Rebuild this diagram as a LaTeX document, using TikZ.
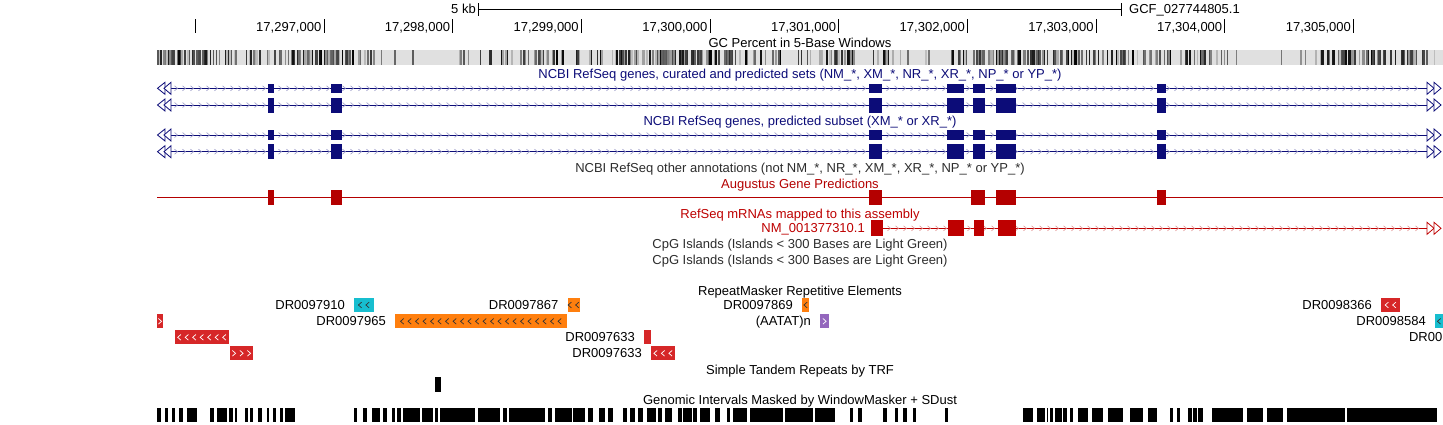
\documentclass[tikz,border=0pt]{standalone}
\usepackage{fontspec}
\setmainfont{Liberation Sans}
\usepackage{xcolor}
\usetikzlibrary{arrows.meta}

\definecolor{refnavy}{RGB}{12,12,120}
\definecolor{augred}{RGB}{180,0,0}
\definecolor{mrnared}{RGB}{190,0,0}
\definecolor{rmred}{RGB}{214,39,40}
\definecolor{rmorange}{RGB}{255,127,14}
\definecolor{rmcyan}{RGB}{23,190,207}
\definecolor{rmpurple}{RGB}{148,103,189}
\definecolor{titlegray}{RGB}{45,45,45}

\tikzset{
  trackfont/.style={font=\fontsize{13}{15}\selectfont, inner sep=0pt, anchor=base},
  tracktitle/.style={trackfont, text=titlegray},
  txline/.style={line width=1pt},
  chev/.style={line width=0.6pt},
  rmlabel/.style={trackfont, anchor=base east},
}

% exon blocks shared by the RefSeq rows
\newcommand{\refexons}{267.5/274, 331/342, 869/882, 947/964, 973/985, 996/1016, 1157/1166}

% forward chevrons along an intron line: y, from, to, colour
\newcommand{\fwdchevrons}[4]{%
  \pgfmathsetmacro\chevnext{#2+8}%
  \foreach \cx in {#2,\chevnext,...,#3}
    \draw[chev, #4] (\cx-1.5,#1-2.5) -- (\cx+1.5,#1) -- (\cx-1.5,#1+2.5);%
}

% open double heads where a row runs out of view
\newcommand{\rightends}[2]{%
  \draw[#2, fill=white, line width=0.8pt] (1427,#1-6) -- (1434,#1) -- (1427,#1+6) -- cycle;
  \draw[#2, fill=white, line width=0.8pt] (1434,#1-6) -- (1441,#1) -- (1434,#1+6) -- cycle;%
}
\newcommand{\leftends}[2]{%
  \draw[#2, fill=white, line width=0.8pt] (165,#1-6) -- (157.5,#1) -- (165,#1+6) -- cycle;
  \draw[#2, fill=white, line width=0.8pt] (171,#1-6) -- (164,#1) -- (171,#1+6) -- cycle;%
}

% repeat element: x1, x2, y, fill, chevron colour, direction (1 or -1), chevrons
\newcommand{\rmelement}[7]{%
  \fill[#4] (#1,#3-7) rectangle (#2,#3+7);
  \foreach \k in {1,...,#7} {
    \pgfmathsetmacro\cx{(#1+#2)/2+(\k-(#7+1)/2)*7.5}
    \pgfmathsetmacro\ctail{\cx-1.6*(#6)}
    \pgfmathsetmacro\chead{\cx+1.6*(#6)}
    \draw[#5, line width=0.7pt] (\ctail,#3-2.8) -- (\chead,#3) -- (\ctail,#3+2.8);
  }%
}

\begin{document}
\begin{tikzpicture}[x=1pt, y=-1pt]
        \fill[white] (0,0) rectangle (1443,424);
        \useasboundingbox (0,0) rectangle (1443,424);
        \clip (0,0) rectangle (1443,424);

        % scale bar and ruler
        \node[trackfont, anchor=base east] (kb) at (476,13.5) {5 kb};
        \draw[line width=1pt] (478.5,3) -- (478.5,16) (478.5,9) -- (1121,9) (1121,3) -- (1121,16);
        \node[trackfont, anchor=base west] (assembly) at (1129,13.5) {GCF\_027744805.1};
        \foreach \k in {0,...,9} {
          \pgfmathsetmacro\tx{195.3+128.7*\k}
          \draw[line width=1pt] (\tx,19) -- (\tx,33);
        }
        \foreach \k in {297,...,305} {
          \pgfmathsetmacro\tx{324+128.7*(\k-297)}
          \node[trackfont, anchor=base east] (pos\k) at (\tx-2.5,31) {17,\k,000};
        }

        % GC percent
        \node[trackfont] (gctitle) at (800,47.5) {GC Percent in 5-Base Windows};
        \fill[black!12] (157,50) rectangle (1443,64.5);
        \pgfmathsetseed{4242}
        \foreach \i in {0,...,856} {
          \pgfmathsetmacro\gcw{0.42+0.45*sin(\i*2.3+20)*cos(\i*0.9+40)}
          \pgfmathtruncatemacro\gcd{rnd<\gcw ? 25+75*rnd : 0}
          \ifnum\gcd>0
            \fill[black!\gcd] (157+1.5*\i,50) rectangle (158.5+1.5*\i,64.5);
          \fi
        }

        % NCBI RefSeq curated and predicted
        \node[trackfont, text=refnavy] (curtitle) at (800,78.5) {NCBI RefSeq genes, curated and predicted sets (NM\_*, XM\_*, NR\_*, XR\_*, NP\_* or YP\_*)};
        \node[trackfont, text=refnavy] (predtitle) at (800,125.5) {NCBI RefSeq genes, predicted subset (XM\_* or XR\_*)};
        \foreach \ry/\eh in {88.3/4.7, 105/7.5, 135/4.7, 151.7/7.5} {
          \draw[txline, refnavy] (170,\ry) -- (1427,\ry);
          \fwdchevrons{\ry}{176}{1420}{refnavy!40}
          \leftends{\ry}{refnavy}
          \rightends{\ry}{refnavy}
          \foreach \a/\b in \refexons
            \fill[refnavy] (\a,\ry-\eh) rectangle (\b,\ry+\eh);
        }
        \node[tracktitle] (othertitle) at (800,172.5) {NCBI RefSeq other annotations (not NM\_*, NR\_*, XM\_*, XR\_*, NP\_* or YP\_*)};

        % Augustus
        \node[trackfont, text=augred] (augtitle) at (800,188.5) {Augustus Gene Predictions};
        \draw[txline, augred] (157,197.3) -- (1443,197.3);
        \foreach \a/\b in {267.5/274, 331/342, 869/882, 971/985, 996/1016, 1157/1166}
          \fill[augred] (\a,190) rectangle (\b,205);

        % RefSeq mRNAs
        \node[trackfont, text=mrnared] (mrnatitle) at (800,218.5) {RefSeq mRNAs mapped to this assembly};
        \node[trackfont, anchor=base east, text=mrnared] (nmlabel) at (865,232.5) {NM\_001377310.1};
        \draw[txline, mrnared] (883,228.3) -- (1427,228.3);
        \fwdchevrons{228.3}{889}{1420}{mrnared!40}
        \rightends{228.3}{mrnared}
        \foreach \a/\b in {871/883, 948/964, 974/984, 998/1016}
          \fill[mrnared] (\a,220.3) rectangle (\b,236.3);

        % CpG islands
        \node[tracktitle] (cpgtitle) at (800,248.5) {CpG Islands (Islands < 300 Bases are Light Green)};
        \node[tracktitle] (cpgtitleb) at (800,264.5) {CpG Islands (Islands < 300 Bases are Light Green)};

        % RepeatMasker
        \node[trackfont] (rmtitle) at (800,295.5) {RepeatMasker Repetitive Elements};
        \rmelement{354}{373.5}{305}{rmcyan}{black!80}{-1}{2}
        \node[rmlabel] (rm910) at (345,309.5) {DR0097910};
        \rmelement{567.5}{579.5}{305}{rmorange}{black!80}{-1}{2}
        \node[rmlabel] (rm867) at (558.5,309.5) {DR0097867};
        \rmelement{802}{809}{305}{rmorange}{black!80}{-1}{1}
        \node[rmlabel] (rm869) at (793,309.5) {DR0097869};
        \rmelement{1381}{1400}{305}{rmred}{white}{-1}{2}
        \node[rmlabel] (rm366) at (1372,309.5) {DR0098366};

        \rmelement{157}{163}{321.3}{rmred}{white}{1}{1}
        \rmelement{395.3}{566.5}{321.3}{rmorange}{black!80}{-1}{22}
        \node[rmlabel] (rm965) at (386,325.8) {DR0097965};
        \rmelement{820}{829}{321.3}{rmpurple}{white}{1}{1}
        \node[rmlabel] (rmaatat) at (811,325.8) {(AATAT)n};
        \rmelement{1435}{1443}{321.3}{rmcyan}{black!80}{-1}{1}
        \node[rmlabel] (rm584) at (1426,325.8) {DR0098584};

        \rmelement{174.6}{229}{337.3}{rmred}{white}{-1}{7}
        \fill[rmred] (644,330.3) rectangle (651,344.3);
        \node[rmlabel] (rm633) at (635,341.8) {DR0097633};
        \node[rmlabel] (rmcut) at (1442.5,341.8) {DR00};

        \rmelement{230}{253}{353.3}{rmred}{white}{1}{3}
        \rmelement{651}{675}{353.3}{rmred}{white}{-1}{3}
        \node[rmlabel] (rm633b) at (642,357.8) {DR0097633};

        % TRF
        \node[trackfont] (trftitle) at (800,374.5) {Simple Tandem Repeats by TRF};
        \fill (435.4,377) rectangle (441,392);

        % WindowMasker
        \node[trackfont] (wmtitle) at (800,404.5) {Genomic Intervals Masked by WindowMasker + SDust};
        \foreach \a/\b in {157.3/160.7, 164.7/168, 172/175.3, 179.3/182.7, 187.3/196.7,
            210/214, 216.7/226.7, 229.3/233, 234.5/237.3, 245/248.3, 250/253.3,
            258.3/261.7, 266.7/269.3, 273.3/276, 280/283, 285/295,
            354/357.3, 363.3/366.7, 371.7/380, 383.3/387.3, 391.7/395, 396.7/400.7,
            403.3/420, 421.7/433.3, 435/438, 440/475, 478.3/500, 503.3/506.7,
            509.3/545, 548.3/551.7, 555/571.7, 573.3/585, 588.3/593.3, 599.3/605,
            608.3/613.3, 623.3/627.3, 630/635, 638.3/643.3, 646.7/656, 658.3/661.7,
            665/671.7, 678.3/681.7, 683.3/691.7, 693.3/696.7, 700/710, 715/720,
            726.7/730, 733.3/746.7, 750/783.3, 785/813.3, 815/835, 850/853.3,
            858.3/861.7, 883.3/887.3, 895/898.3, 903.3/906.7, 913.3/916, 945/947.7,
            1023.3/1033.3, 1036.7/1045, 1046.7/1048.3, 1050/1053.3, 1055/1061.7,
            1063.3/1066.7, 1070/1073.3, 1078.3/1088.3, 1091.7/1103.3, 1108.3/1123.3,
            1130/1143.3, 1148.3/1156.7, 1170/1173.3, 1176.7/1180, 1188.3/1191.7,
            1193.3/1196.7, 1198.3/1203.3, 1211.7/1243.3, 1246.7/1263.3,
            1266.7/1283.3, 1286.7/1345, 1346.7/1437}
          \fill (\a,408) rectangle (\b,422);
\end{tikzpicture}
\end{document}
